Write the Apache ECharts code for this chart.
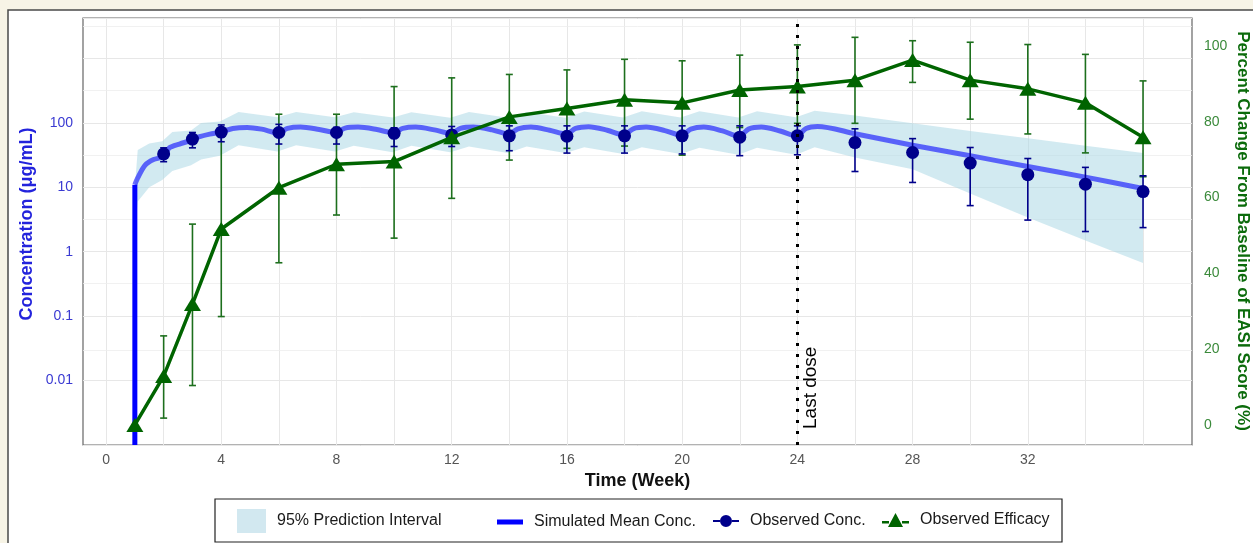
<!DOCTYPE html>
<html><head><meta charset="utf-8">
<script src="https://cdn.jsdelivr.net/npm/echarts@6/dist/echarts.min.js"></script>
<style>html,body{margin:0;padding:0;background:#f7f4e6}#c{width:1253px;height:543px}</style>
</head><body><div id="c"></div>
<script>
// ---------------- data ----------------
const xTickLabels = [0, 4, 8, 12, 16, 20, 24, 28, 32];
const xGridWeeks = [0, 2, 4, 6, 8, 10, 12, 14, 16, 18, 20, 22, 24, 26, 28, 30, 32, 34, 36];
const concTickLabels = ['0.01', '0.1', '1', '10', '100'];
const concMinorGrid = [0.00316, 0.0316, 0.316, 3.16, 31.6, 316, 3162];
const effTicks = [0, 20, 40, 60, 80, 100];
const lastDoseWeek = 24;

// simulated mean concentration (ug/mL)
const meanRiseWeeks = [1.0, 1.0];
const meanRiseValues = [0.001, 11];
const meanWeeks = [1.0, 1.1, 1.35, 1.65, 1.98, 2.2, 2.55, 2.98, 3.25, 3.6, 3.98, 4.4, 4.9, 5.4, 5.98,
  6.3, 6.75, 7.4, 7.98, 8.3, 8.75, 9.4, 9.98, 10.3, 10.75, 11.4, 11.98, 12.3, 12.75, 13.4, 13.98,
  14.3, 14.75, 15.4, 15.98, 16.3, 16.75, 17.4, 17.98, 18.3, 18.75, 19.4, 19.98, 20.3, 20.75, 21.4, 21.98,
  22.3, 22.75, 23.4, 23.98, 24.3, 24.7, 26, 28, 30, 32, 34, 36];
const meanValues = [11, 14, 22, 27, 30, 41, 47, 54, 61, 67, 72, 82, 85, 80, 70,
  82, 86, 79, 71, 83, 86, 79, 70, 82, 86, 78, 69, 82, 86, 78, 67,
  81, 86, 77, 67, 82, 87, 77, 65, 81, 86, 76, 64, 80, 86, 75, 62,
  80, 86, 75, 63, 82, 88, 68, 45, 31, 21, 14.4, 9.6];

// 95% prediction interval
const bandWeeks = [1.0, 1.1, 1.5, 1.95, 2.3, 2.95, 3.3, 3.95, 4.6, 5.95, 6.6, 7.95, 8.6, 9.95, 10.6, 11.95,
  12.6, 13.95, 14.6, 15.95, 16.6, 17.95, 18.6, 19.95, 20.6, 21.95, 22.6, 23.95, 24.6, 26, 28, 30, 32, 34, 36];
const bandUpper = [10, 38, 48, 52, 72, 76, 100, 105, 148, 122, 148, 122, 146, 121, 146, 120,
  147, 120, 148, 120, 150, 121, 151, 121, 152, 121, 152, 122, 155, 130, 99, 75, 58, 44, 34];
const bandLower = [2, 6, 10, 13, 18, 22, 27, 31, 45, 36, 45, 36, 44, 35, 44, 35,
  43, 34, 43, 34, 42, 33, 42, 33, 41, 32, 41, 32, 42, 29, 19, 8, 3.4, 1.5, 0.67];

// observed concentration
const concWeeks = [2, 3, 4, 6, 8, 10, 12, 14, 16, 18, 20, 22, 24, 26, 28, 30, 32, 34, 36];
const concMean  = [33, 56, 72, 71, 71, 69, 65, 63, 62, 63, 63, 60, 63, 49.5, 34.7, 23.8, 15.7, 11.2, 8.6];
const concLower = [25, 41, 51, 47, 47, 43, 43, 37, 34, 34, 33, 31, 32, 17.6, 11.9, 5.2, 3.1, 2.06, 2.37];
const concUpper = [41, 71, 93, 95, 85, 84, 88, 90, 90, 90, 90, 90, 90, 81, 57, 41.5, 28, 20.4, 15.1];

// observed efficacy (% change from baseline of EASI)
const effWeeks = [1, 2, 3, 4, 6, 8, 10, 12, 14, 16, 18, 20, 22, 24, 26, 28, 30, 32, 34, 36];
const effMean  = [0, 12.9, 31.9, 51.7, 62.6, 68.8, 69.5, 75.9, 81.3, 83.5, 85.8, 85.0, 88.4, 89.3, 91.0, 96.3, 91.0, 88.7, 85.0, 75.9];
const effLower = [null, 1.8, 10.4, 28.6, 42.8, 55.4, 49.3, 59.8, 69.9, 73.0, 73.6, 71.2, 78.5, 79.6, 79.6, 90.4, 80.7, 76.8, 71.8, 65.5];
const effUpper = [null, 23.5, 53, 76, 82, 82, 89.3, 91.6, 92.5, 93.7, 96.5, 96.1, 97.6, 100.3, 102.3, 101.4, 101, 100.4, 97.8, 90.8];

// ---------------- styles ----------------
const FONT = '"Liberation Sans", Arial, Helvetica, sans-serif';
const BAND = 'rgba(173,216,230,0.55)';
const MEAN = 'rgba(0,0,255,0.58)';
const NAVY = '#00008b';
const GREEN = '#006400';
const GREEN_ERR = '#1d6f1d';

function errRenderer(color) {
  return function (params, api) {
    const x = api.value(0), lo = api.value(1), hi = api.value(2);
    if (isNaN(lo) || isNaN(hi)) return;
    const a = api.coord([x, hi]), b = api.coord([x, lo]);
    const w = 3.5;
    const st = { stroke: color, lineWidth: 1.6, fill: null };
    return { type: 'group', children: [
      { type: 'line', shape: { x1: a[0], y1: a[1], x2: b[0], y2: b[1] }, style: st },
      { type: 'line', shape: { x1: a[0] - w, y1: a[1], x2: a[0] + w, y2: a[1] }, style: st },
      { type: 'line', shape: { x1: b[0] - w, y1: b[1], x2: b[0] + w, y2: b[1] }, style: st }
    ]};
  };
}

function fmtConc(v) {
  const l = Math.log10(v), r = Math.round(l);
  if (Math.abs(l - r) > 1e-6 || r < -2 || r > 2) return '';
  return concTickLabels[r + 2];
}

const legendText = { fontSize: 16, color: '#1a1a1a', fontFamily: FONT, padding: [0, 0, 0, 6] };
function mkLegend(name, icon, color, left, top, w, h) {
  return { data: [{ name: name, icon: icon, itemStyle: { color: color } }], left: left, top: top,
    padding: 0, itemWidth: w, itemHeight: h, selectedMode: false, textStyle: legendText };
}

const chart = echarts.init(document.getElementById('c'), null, { renderer: 'canvas' });
chart.setOption({
  backgroundColor: '#f7f4e6',
  animation: false,
  textStyle: { fontFamily: FONT },
  grid: { left: 83, right: 61, top: 18, bottom: 98, show: true, borderColor: '#666', borderWidth: 1.2, backgroundColor: 'transparent' },
  graphic: [
    { type: 'rect', z: -10, shape: { x: 8, y: 10, width: 1300, height: 600 }, style: { fill: '#fff', stroke: '#4a4a4a', lineWidth: 1.5 } },
    { type: 'rect', z: 0, shape: { x: 215, y: 499, width: 847, height: 43 }, style: { fill: '#fff', stroke: '#222', lineWidth: 1.2 } },
    { type: 'text', z: 1, x: 27, y: 224, rotation: Math.PI / 2,
      style: { text: 'Concentration (μg/mL)', fill: '#2323dc', font: 'bold 18px ' + FONT, align: 'center', verticalAlign: 'middle' } },
    { type: 'text', z: 1, x: 1243, y: 231, rotation: -Math.PI / 2,
      style: { text: 'Percent Change From Baseline of EASI Score (%)', fill: '#0b6b0b', font: 'bold 17px ' + FONT, align: 'center', verticalAlign: 'middle' } }
  ],
  legend: [
    mkLegend('95% Prediction Interval', 'rect', '#d2e8f0', 237, 509, 29, 24),
    mkLegend('Simulated Mean Conc.', 'rect', '#0000ff', 497, 514, 26, 5),
    mkLegend('Observed Conc.', 'path://M0,5L7,5L7,7L0,7Z M19,5L26,5L26,7L19,7Z M13,0A6,6 0 1 1 12.99,0Z', NAVY, 713, 513, 26, 12),
    mkLegend('Observed Efficacy', 'path://M0,8L7,8L7,10.5L0,10.5Z M20,8L27,8L27,10.5L20,10.5Z M13.5,0L21,14L6,14Z', GREEN, 882, 512, 27, 14)
  ],
  xAxis: {
    type: 'value', min: -0.8, max: 37.7,
    axisLine: { show: false },
    axisTick: { show: false, customValues: xGridWeeks },
    axisLabel: { customValues: xTickLabels, color: '#555', fontSize: 14, margin: 8 },
    splitLine: { show: true, lineStyle: { color: '#e7e7e7', width: 1 } },
    name: 'Time (Week)', nameLocation: 'middle', nameGap: 20,
    nameTextStyle: { fontWeight: 'bold', fontSize: 18, color: '#111' }
  },
  yAxis: [
    { type: 'log', logBase: 10, min: 0.001, max: 4250, position: 'left',
      axisLine: { show: false }, axisTick: { show: false },
      axisLabel: { formatter: fmtConc, color: '#3a3ad2', fontSize: 14, margin: 10 },
      splitLine: { show: true, lineStyle: { color: '#e7e7e7', width: 1 } } },
    { type: 'value', min: -5.3, max: 107.4, position: 'right',
      axisLine: { show: false }, axisTick: { show: false, customValues: effTicks },
      axisLabel: { customValues: effTicks, color: '#3b8a3b', fontSize: 14, margin: 12 },
      splitLine: { show: false } }
  ],
  series: [
    { type: 'custom', name: '95% Prediction Interval', xAxisIndex: 0, yAxisIndex: 0, z: 2, silent: true,
      itemStyle: { color: '#d2e8f0' },
      data: bandWeeks.map((w, i) => [w, bandLower[i], bandUpper[i]]),
      encode: { x: 0, y: [1, 2] },
      renderItem: function (params, api) {
        if (params.dataIndex !== 0) return;
        const top = bandWeeks.map((w, i) => api.coord([w, bandUpper[i]]));
        const bot = bandWeeks.map((w, i) => api.coord([w, bandLower[i]])).reverse();
        return { type: 'polygon', shape: { points: top.concat(bot) }, style: { fill: BAND } };
      },
      markLine: { silent: true, z: 1, symbol: ['none', 'none'], label: { show: false },
        lineStyle: { color: '#ededed', width: 0.8, type: 'solid' },
        data: concMinorGrid.map(v => ({ yAxis: v })) }
    },
    { type: 'line', name: 'meanRise', z: 3, silent: true, showSymbol: false,
      data: meanRiseWeeks.map((w, i) => [w, meanRiseValues[i]]),
      lineStyle: { color: '#0000ff', width: 5 } },
    { type: 'line', name: 'Simulated Mean Conc.', z: 3, silent: true, showSymbol: false, smooth: 0.3,
      data: meanWeeks.map((w, i) => [w, meanValues[i]]),
      itemStyle: { color: '#0000ff' },
      lineStyle: { color: MEAN, width: 5 },
      markLine: { silent: true, z: 8, symbol: ['none', 'none'],
        lineStyle: { color: '#000', type: [3, 8], width: 3 },
        label: { show: true, formatter: 'Last dose', position: 'insideStartBottom', color: '#000', fontSize: 19, distance: 4, padding: [0, 0, 0, 12] },
        data: [{ xAxis: lastDoseWeek }] }
    },
    { type: 'custom', name: 'effErr', xAxisIndex: 0, yAxisIndex: 1, z: 4, silent: true,
      data: effWeeks.map((w, i) => [w, effLower[i], effUpper[i]]),
      encode: { x: 0, y: [1, 2] }, renderItem: errRenderer(GREEN_ERR) },
    { type: 'custom', name: 'concErr', xAxisIndex: 0, yAxisIndex: 0, z: 5, silent: true,
      data: concWeeks.map((w, i) => [w, concLower[i], concUpper[i]]),
      encode: { x: 0, y: [1, 2] }, renderItem: errRenderer(NAVY) },
    { type: 'scatter', name: 'Observed Conc.', z: 6, silent: true, symbol: 'circle', symbolSize: 13,
      itemStyle: { color: NAVY, opacity: 1 },
      data: concWeeks.map((w, i) => [w, concMean[i]]) },
    { type: 'line', name: 'Observed Efficacy', yAxisIndex: 1, z: 7, silent: true,
      symbol: 'triangle', symbolSize: [17, 14], showSymbol: true,
      itemStyle: { color: GREEN, opacity: 1 }, lineStyle: { color: GREEN, width: 3.5 },
      data: effWeeks.map((w, i) => [w, effMean[i]]) }
  ]
});
</script></body></html>
